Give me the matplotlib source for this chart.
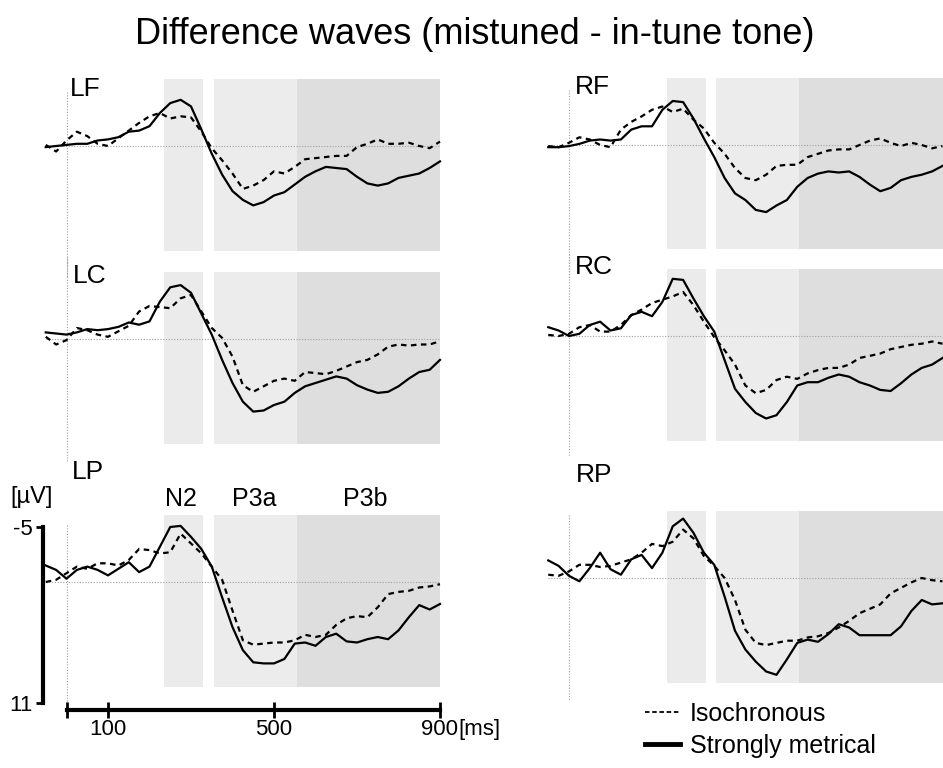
import numpy as np
import matplotlib.pyplot as plt
from matplotlib.lines import Line2D
from matplotlib.patches import Rectangle

plt.rcParams['font.family'] = ['Liberation Sans', 'DejaVu Sans']

# time axis of the difference waves (ms)
times = np.arange(-50, 901, 25)

# analysis windows (ms)
win_names = ['N2', 'P3a', 'P3b']
win_start = [235, 355, 555]
win_end = [330, 555, 900]

# amplitudes in microvolts (negative up)
lf_iso = [-0.1, 0.5, -0.5, -1.3, -0.9, -0.2, 0.0, -0.7, -1.4, -2.1, -2.7, -3.0, -2.5, -2.7, -2.6,
          -1.3, 0.2, 1.3, 2.5, 3.9, 3.6, 3.1, 2.3, 2.5, 1.9, 1.2, 1.1, 1.0, 0.9, 0.9,
          0.1, -0.2, -0.6, -0.2, -0.2, -0.3, 0.0, 0.2, -0.4]
lf_met = [0.1, 0.0, -0.1, -0.2, -0.2, -0.5, -0.6, -0.8, -1.3, -1.4, -1.8, -3.0, -3.9, -4.2, -3.6,
          -1.5, 0.7, 2.6, 4.1, 4.9, 5.4, 5.1, 4.5, 4.2, 3.5, 2.8, 2.3, 1.9, 2.0, 2.1,
          2.8, 3.4, 3.6, 3.4, 2.9, 2.7, 2.5, 2.0, 1.4]

lc_iso = [-0.2, 0.5, 0.1, -1.0, -0.8, -0.4, -0.2, -0.7, -1.2, -2.5, -3.0, -2.9, -2.8, -3.7, -4.0,
          -2.5, -1.0, -0.1, 1.6, 4.2, 4.8, 4.3, 3.8, 3.6, 3.8, 3.0, 3.1, 3.2, 2.9, 2.5,
          2.1, 1.9, 1.4, 0.7, 0.5, 0.6, 0.5, 0.5, 0.2]
lc_met = [-0.6, -0.5, -0.4, -0.6, -0.9, -0.8, -0.9, -1.1, -1.5, -1.3, -1.6, -3.4, -4.7, -4.9, -4.2,
          -2.3, -0.4, 1.9, 4.0, 5.7, 6.6, 6.5, 6.0, 5.7, 4.9, 4.3, 4.0, 3.7, 3.4, 3.6,
          4.2, 4.6, 4.9, 4.8, 4.3, 3.6, 3.0, 2.8, 1.9]

lp_iso = [0.0, -0.2, -0.8, -1.4, -1.2, -1.7, -1.7, -1.5, -2.0, -3.0, -2.9, -2.6, -2.7, -4.4, -3.5,
          -2.6, -1.4, -0.2, 2.6, 5.3, 5.7, 5.6, 5.5, 5.5, 5.3, 4.8, 5.0, 4.8, 3.9, 3.3,
          3.1, 3.2, 2.3, 1.1, 0.9, 0.8, 0.5, 0.4, 0.2]
lp_met = [-1.5, -1.1, -0.3, -1.1, -1.4, -1.1, -0.6, -1.2, -1.8, -0.9, -1.4, -3.2, -5.0, -5.1, -4.1,
          -3.0, -1.4, 1.4, 4.1, 6.2, 7.3, 7.4, 7.4, 7.0, 5.6, 5.5, 5.8, 5.0, 4.7, 5.4,
          5.5, 5.2, 5.0, 5.2, 4.4, 3.2, 2.1, 2.5, 2.0]

rf_iso = [0.1, 0.2, -0.2, -0.7, -0.5, 0.0, 0.2, -1.4, -2.1, -2.6, -3.2, -3.5, -3.0, -3.3, -2.3,
          -1.5, -0.2, 0.8, 2.1, 3.0, 3.2, 2.7, 1.9, 1.8, 1.8, 1.1, 0.8, 0.5, 0.4, 0.4,
          0.0, -0.4, -0.6, -0.2, 0.1, -0.2, 0.0, 0.3, 0.1]
rf_met = [0.2, 0.2, 0.1, -0.1, -0.4, -0.5, -0.4, -0.5, -1.4, -1.7, -1.7, -3.2, -4.0, -3.9, -2.4,
          -0.6, 1.1, 3.0, 4.4, 5.0, 5.9, 6.1, 5.5, 5.0, 3.8, 3.0, 2.6, 2.4, 2.5, 2.4,
          2.9, 3.6, 4.2, 3.9, 3.2, 2.9, 2.7, 2.4, 1.9]

rc_iso = [-0.1, 0.0, -0.2, -0.8, -1.0, -0.4, -0.4, -1.0, -1.9, -2.4, -3.0, -3.3, -3.6, -4.0, -2.8,
          -1.3, 0.1, 1.3, 2.6, 4.5, 5.2, 4.9, 4.0, 3.7, 3.9, 3.4, 3.1, 2.9, 2.9, 2.6,
          2.0, 1.8, 1.6, 1.2, 1.0, 0.8, 0.7, 0.5, 0.7]
rc_met = [-0.8, -0.5, 0.0, -0.2, -1.0, -1.3, -0.5, -0.7, -1.9, -2.2, -1.8, -3.1, -5.2, -5.1, -3.4,
          -1.8, -0.4, 2.2, 4.8, 6.0, 7.0, 7.5, 7.2, 6.0, 4.5, 4.2, 4.2, 3.8, 3.5, 3.7,
          4.2, 4.5, 4.9, 5.0, 4.3, 3.5, 2.9, 2.6, 2.0]

rp_iso = [-0.3, -0.2, -0.6, -1.2, -1.2, -1.0, -1.1, -1.4, -1.7, -2.3, -3.1, -2.9, -3.3, -4.4, -3.6,
          -2.0, -1.1, 0.0, 2.0, 4.7, 5.9, 6.1, 5.9, 5.7, 5.7, 5.4, 5.3, 5.0, 4.5, 3.9,
          3.2, 2.8, 2.4, 1.4, 0.9, 0.4, 0.0, 0.2, 0.3]
rp_met = [-1.6, -1.1, -0.2, 0.3, -0.9, -2.3, -0.8, -0.3, -1.7, -2.1, -0.9, -2.3, -4.7, -5.4, -4.1,
          -2.3, -1.2, 1.7, 4.8, 6.5, 7.6, 8.5, 8.8, 7.4, 5.9, 5.6, 5.8, 5.1, 4.2, 4.5,
          5.2, 5.2, 5.2, 5.2, 4.4, 3.0, 2.0, 2.4, 2.3]

panel_names = ['LF', 'RF', 'LC', 'RC', 'LP', 'RP']
iso_waves = [lf_iso, rf_iso, lc_iso, rc_iso, lp_iso, rp_iso]
met_waves = [lf_met, rf_met, lc_met, rc_met, lp_met, rp_met]

# layout in pixels
W, H = 943, 768
PX_MS = 0.415
PX_UV = 11.0
XLIM = (-60, 910)
YLIM = (12, -7.5)
col_x0 = [66.5, 569, 66.5, 569, 66.5, 569]
row_zero = [146, 145, 339, 336, 582, 578]
vline_span = [(-4.9, 12), (-5.0, 12), (-7.5, 11.1), (-7.5, 10.9), (-5.2, 10.9), (-5.7, 11.1)]
label_pos = [(8, -4.5), (14, -4.6), (16, -5.1), (14, -5.6), (13, -9.4), (17, -8.7)]
shade_cols = ['#ebebeb', '#ececec', '#dedede']

fig = plt.figure(figsize=(W / 100, H / 100), dpi=100)

axes = []
for i, name in enumerate(panel_names):
    x0 = col_x0[i]
    z = row_zero[i]
    left = x0 + XLIM[0] * PX_MS
    right = x0 + XLIM[1] * PX_MS
    top = z + YLIM[1] * PX_UV
    bottom = z + YLIM[0] * PX_UV
    ax = fig.add_axes([left / W, 1 - bottom / H, (right - left) / W, (bottom - top) / H])
    ax.set_xlim(XLIM)
    ax.set_ylim(YLIM)
    ax.patch.set_alpha(0)
    for s in ax.spines.values():
        s.set_visible(False)
    ax.set_xticks([])
    ax.set_yticks([])

    for k in range(3):
        ax.add_patch(Rectangle((win_start[k], -6.1), win_end[k] - win_start[k], 15.6,
                               facecolor=shade_cols[k], edgecolor='none', zorder=0))
    ax.hlines(0, times[0], times[-1], color='#a0a0a0', lw=0.8, linestyles=(0, (1, 1.5)), zorder=1)
    ax.vlines(0, vline_span[i][0], vline_span[i][1], color='#a0a0a0', lw=0.8,
              linestyles=(0, (1, 1.5)), zorder=1)

    ax.plot(times, iso_waves[i], color='black', lw=1.6, ls=(0, (2.5, 2)), zorder=3,
            solid_joinstyle='round')
    ax.plot(times, met_waves[i], color='black', lw=1.6, zorder=3, solid_joinstyle='round')
    ax.text(label_pos[i][0], label_pos[i][1], name, fontsize=19, va='baseline', ha='left')
    axes.append(ax)

# scale bars on LP
ax = axes[4]
ax.spines['left'].set_visible(True)
ax.spines['left'].set_position(('data', -57))
ax.spines['left'].set_bounds(-5, 11)
ax.spines['left'].set_linewidth(3)
ax.set_yticks([-5, 11])
ax.set_yticklabels(['-5', '11'], fontsize=16)
ax.tick_params(axis='y', length=5, width=2, pad=2)

ax.spines['bottom'].set_visible(True)
ax.spines['bottom'].set_position(('data', 11.6))
ax.spines['bottom'].set_bounds(0, 900)
ax.spines['bottom'].set_linewidth(3)
ax.set_xticks([0, 100, 500, 900])
ax.set_xticklabels(['', '100', '500', '900'], fontsize=16)
ax.tick_params(axis='x', direction='inout', length=12, width=2, pad=1)
ax.text(945, 12.45, '[ms]', fontsize=16, va='top', ha='left', clip_on=False)
ax.text(-83, -7.7, '[µV]', fontsize=17, va='center', ha='center', clip_on=False)

label_x = [276, 452, 719]
for k in range(3):
    ax.text(label_x[k], -7.5, win_names[k], fontsize=18, ha='center', va='center')

fig.text(475 / W, 1 - 35 / H, 'Difference waves (mistuned - in-tune tone)',
         fontsize=26, ha='center', va='center')

handles = [Line2D([], [], color='black', lw=1.3, ls=(0, (2.5, 1.5))),
           Line2D([], [], color='black', lw=3.5)]
fig.legend(handles, ['Isochronous', 'Strongly metrical'], loc='upper left',
           bbox_to_anchor=(645 / W, 1 - 702 / H), frameon=False, fontsize=18,
           handlelength=1.4, handletextpad=0.4, labelspacing=0.3,
           borderpad=0, borderaxespad=0)

plt.savefig('out.png', dpi=100)
plt.close()
